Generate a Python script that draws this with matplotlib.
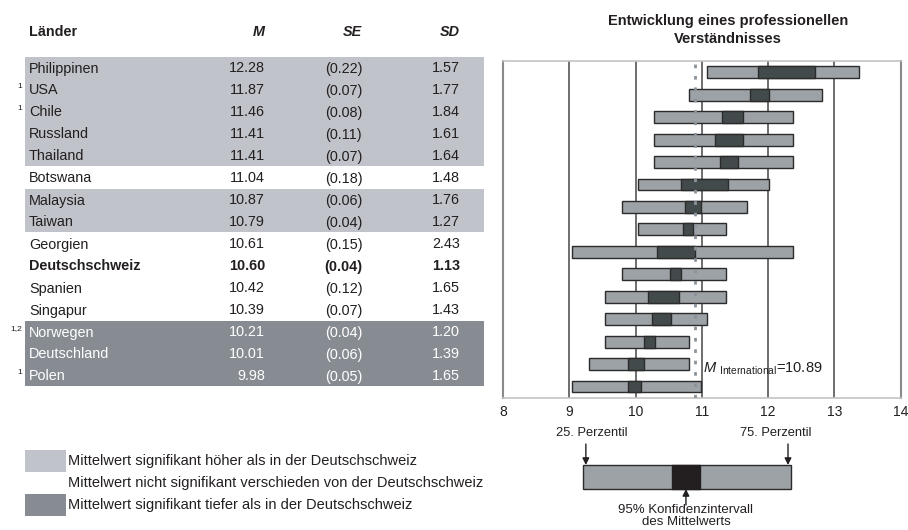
import numpy as np
import matplotlib
matplotlib.use("Agg")
import matplotlib.pyplot as plt

plt.rcParams['font.family'] = ['Liberation Sans', 'DejaVu Sans']
plt.rcParams['mathtext.fontset'] = 'custom'
plt.rcParams['mathtext.rm'] = 'Liberation Sans'
plt.rcParams['mathtext.it'] = 'Liberation Sans:italic'

# Daten
laender = ["Philippinen", "USA", "Chile", "Russland", "Thailand", "Botswana",
           "Malaysia", "Taiwan", "Georgien", "Deutschschweiz", "Spanien",
           "Singapur", "Norwegen", "Deutschland", "Polen"]
fussnoten = ["", "1", "1", "", "", "", "", "", "", "", "", "", "1,2", "", "1"]
mittel = [12.28, 11.87, 11.46, 11.41, 11.41, 11.04, 10.87, 10.79, 10.61,
          10.60, 10.42, 10.39, 10.21, 10.01, 9.98]
se = [0.22, 0.07, 0.08, 0.11, 0.07, 0.18, 0.06, 0.04, 0.15, 0.04, 0.12,
      0.07, 0.04, 0.06, 0.05]
sd = [1.57, 1.77, 1.84, 1.61, 1.64, 1.48, 1.76, 1.27, 2.43, 1.13, 1.65,
      1.43, 1.20, 1.39, 1.65]
p25 = [11.08, 10.80, 10.28, 10.28, 10.28, 10.03, 9.79, 10.03, 9.04, 9.79,
       9.54, 9.54, 9.54, 9.29, 9.04]
p75 = [13.37, 12.82, 12.38, 12.38, 12.38, 12.01, 11.68, 11.37, 12.38, 11.37,
       11.37, 11.08, 10.81, 10.81, 10.98]
gruppe = ["hoch"] * 5 + ["ns"] + ["hoch"] * 2 + ["ns"] * 4 + ["tief"] * 3
m_international = 10.89
x_ticks = [8, 9, 10, 11, 12, 13, 14]

# Legende unten rechts (Beispielbalken)
key_p25 = 9.2
key_p75 = 12.35
key_ci = [10.55, 10.97]

c_hell = "#c0c3c9"
c_dunkel = "#878c92"
c_balken = "#9da2a7"
c_ci = "#434a4b"
c_text = "#231f20"

W, H = 908, 530
fig = plt.figure(figsize=(W / 100, H / 100), dpi=100)

# --- Tabelle links (Pixelkoordinaten) ---
tab = fig.add_axes([0, 0, 1, 1])
tab.set_xlim(0, W)
tab.set_ylim(H, 0)
tab.axis("off")

y0, dy = 68.5, 22.0
x_name, x_m, x_se, x_sd = 29, 265, 362, 460
fs = 10.4

tab.text(x_name, 32.5, "Länder", fontsize=fs, fontweight="bold", va="center", color=c_text)
tab.text(x_m, 32.5, "M", fontsize=fs, fontweight="bold", style="italic", ha="right", va="center", color=c_text)
tab.text(x_se, 32.5, "SE", fontsize=fs, fontweight="bold", style="italic", ha="right", va="center", color=c_text)
tab.text(x_sd, 32.5, "SD", fontsize=fs, fontweight="bold", style="italic", ha="right", va="center", color=c_text)

# Hintergrundbänder
i = 0
n = len(laender)
while i < n:
    j = i
    while j + 1 < n and gruppe[j + 1] == gruppe[i]:
        j += 1
    if gruppe[i] != "ns":
        farbe = c_hell if gruppe[i] == "hoch" else c_dunkel
        top = y0 + dy * i - 11.5
        bot = y0 + dy * j + 9.5
        tab.add_patch(plt.Rectangle((25, top), 484 - 25, bot - top, color=farbe, lw=0))
    i = j + 1

for k, name in enumerate(laender):
    y = y0 + dy * k
    col = "white" if gruppe[k] == "tief" else c_text
    fw = "bold" if name == "Deutschschweiz" else "normal"
    tab.text(x_name, y, name, fontsize=fs, va="center", color=col, fontweight=fw)
    tab.text(x_m, y, f"{mittel[k]:.2f}", fontsize=fs, va="center", ha="right", color=col, fontweight=fw)
    tab.text(343.5, y, f"({se[k]:.2f})", fontsize=fs, va="center", ha="center", color=col, fontweight=fw)
    tab.text(x_sd, y, f"{sd[k]:.2f}", fontsize=fs, va="center", ha="right", color=col, fontweight=fw)
    if fussnoten[k]:
        tab.text(22, y - 3.5, fussnoten[k], fontsize=6, va="center", ha="right", color=c_text)

# Legende links unten
fs_leg = 10.5
tab.add_patch(plt.Rectangle((25, 450), 41, 22, color=c_hell, lw=0))
tab.add_patch(plt.Rectangle((25, 494), 41, 22, color=c_dunkel, lw=0))
for yy, t in zip([461.5, 483, 505],
                 ["Mittelwert signifikant höher als in der Deutschschweiz",
                  "Mittelwert nicht signifikant verschieden von der Deutschschweiz",
                  "Mittelwert signifikant tiefer als in der Deutschschweiz"]):
    tab.text(68, yy, t, fontsize=fs_leg, va="center", color=c_text)

# Titel
tab.text(728, 21.5, "Entwicklung eines professionellen", fontsize=10.5, fontweight="bold",
         ha="center", va="center", color=c_text)
tab.text(728, 39, "Verständnisses", fontsize=10.5, fontweight="bold",
         ha="center", va="center", color=c_text)

# --- Diagramm rechts ---
ax_l, ax_r, ax_t, ax_b = 503, 900.7, 61, 397.7
ax = fig.add_axes([ax_l / W, 1 - ax_b / H, (ax_r - ax_l) / W, (ax_b - ax_t) / H])
ax.set_xlim(8, 14)
ax.set_ylim(len(laender) - 0.5, -0.5)

for x in x_ticks[1:-1]:
    ax.axvline(x, color="#555555", lw=1.2, zorder=1)

ypos = np.arange(len(laender))
m = np.array(mittel)
s = np.array(se)
ax.barh(ypos, np.array(p75) - np.array(p25), left=p25, height=0.53,
        color=c_balken, edgecolor="#2b2b2b", lw=1, zorder=2)
ax.barh(ypos, 2 * 1.96 * s, left=m - 1.96 * s, height=0.53,
        color=c_ci, edgecolor="#2b2b2b", lw=1, zorder=3)

ax.axvline(m_international, color="#8a939c", lw=2, linestyle=(0, (1.3, 2.8)), zorder=4)
ax.text(m_international + 0.13, 13.2,
        r"$\it{M}$ $_{\rm International}$" + f"={m_international:.2f}",
        fontsize=10.5, va="center", color=c_text, zorder=5)

ax.set_xticks(x_ticks)
ax.set_xticklabels([str(v) for v in x_ticks], fontsize=10, color=c_text)
ax.tick_params(axis="x", length=0, pad=5)
ax.set_yticks([])
for side in ["left", "right"]:
    ax.spines[side].set_color("#8a8a8a")
    ax.spines[side].set_linewidth(1.5)
for side in ["top", "bottom"]:
    ax.spines[side].set_color("#c4c4c4")
    ax.spines[side].set_linewidth(1.2)

# --- Lesehilfe unten rechts ---
ak = fig.add_axes([ax_l / W, 0, (ax_r - ax_l) / W, 110 / H])
ak.set_xlim(8, 14)
ak.set_ylim(530, 420)
ak.axis("off")
ak.add_patch(plt.Rectangle((key_p25, 465), key_p75 - key_p25, 24,
                           facecolor=c_balken, edgecolor="#2b2b2b", lw=1))
ak.add_patch(plt.Rectangle((key_ci[0], 465), key_ci[1] - key_ci[0], 24,
                           facecolor="#231f20", edgecolor="#231f20", lw=1))
arrow = dict(arrowstyle="-|>", color="#231f20", lw=1, mutation_scale=10, shrinkA=0, shrinkB=0)
ak.annotate("", xy=(key_p25 + 0.05, 465), xytext=(key_p25 + 0.05, 444), arrowprops=arrow)
ak.annotate("", xy=(key_p75 - 0.05, 465), xytext=(key_p75 - 0.05, 444), arrowprops=arrow)
ci_mid = (key_ci[0] + key_ci[1]) / 2
ak.annotate("", xy=(ci_mid, 489), xytext=(ci_mid, 505), arrowprops=arrow)
ak.text(key_p25 + 0.14, 432.5, "25. Perzentil", fontsize=9.3, ha="center", va="center", color=c_text)
ak.text(key_p75 - 0.24, 432.5, "75. Perzentil", fontsize=9.3, ha="center", va="center", color=c_text)
ak.text(ci_mid, 504, "95% Konfidenzintervall\ndes Mittelwerts", fontsize=9.5,
        ha="center", va="top", linespacing=1.0, color=c_text)

fig.savefig("out.png", dpi=100)
